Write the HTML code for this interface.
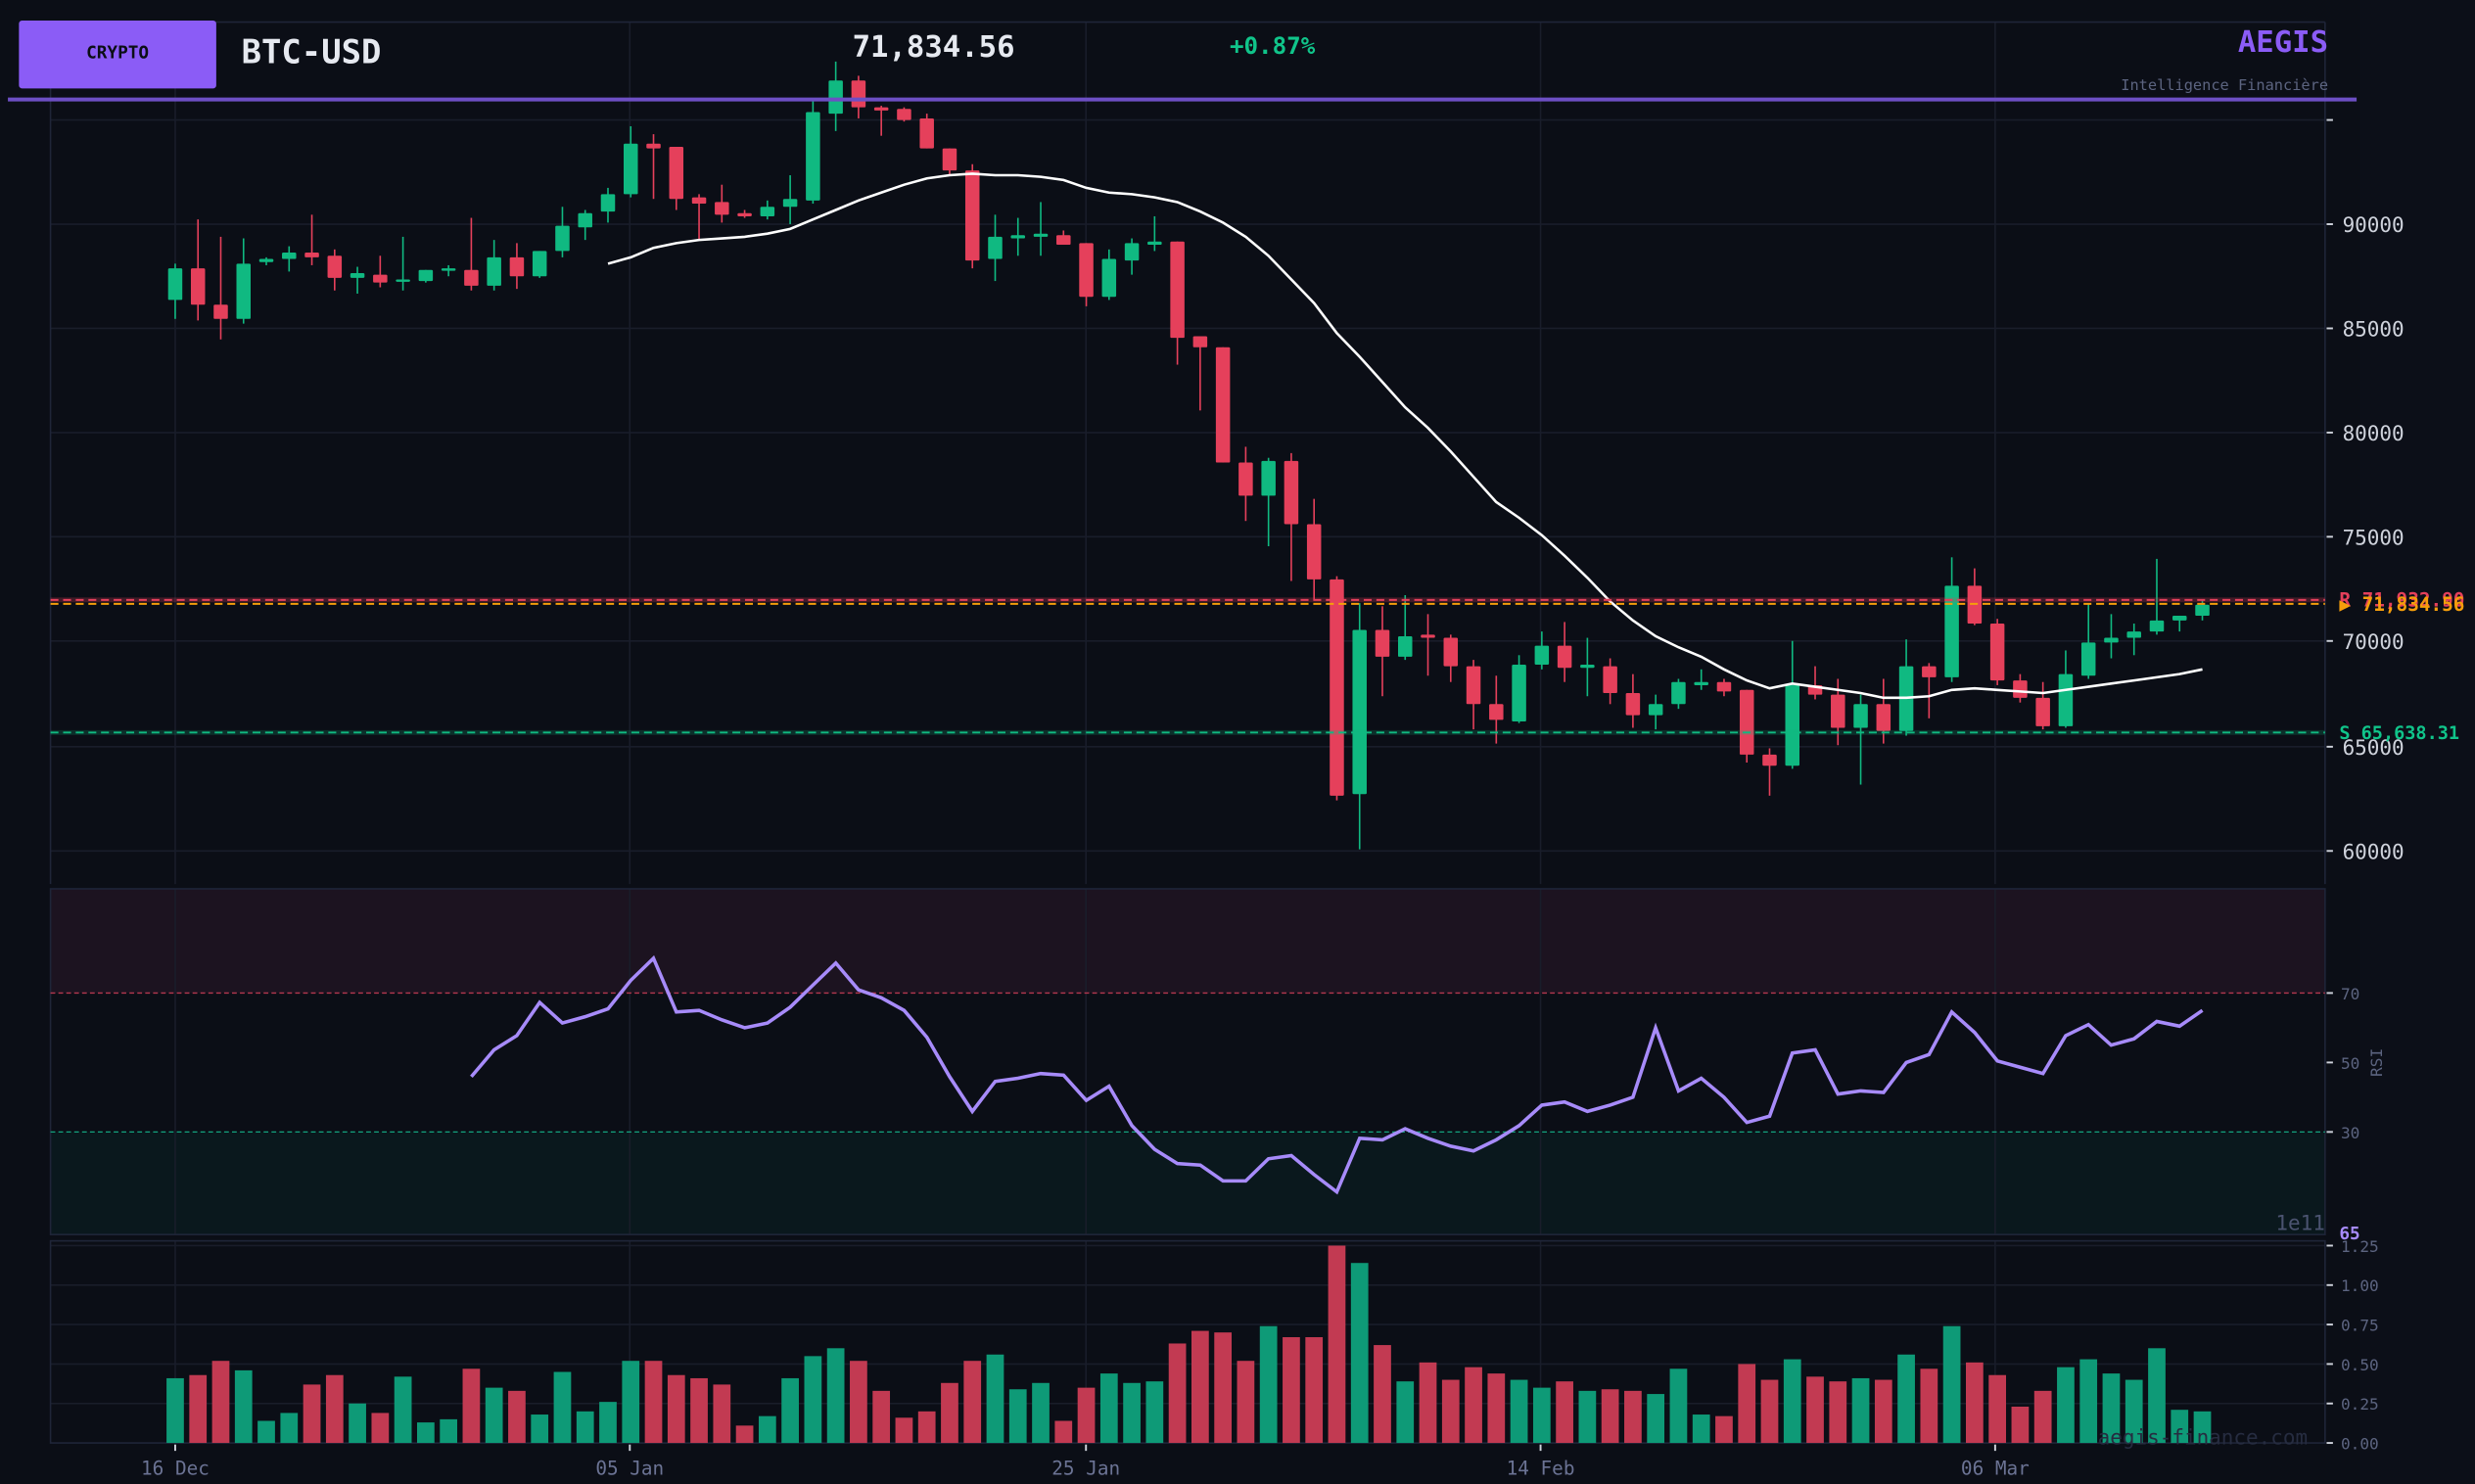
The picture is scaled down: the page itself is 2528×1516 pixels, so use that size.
<!DOCTYPE html>
<html><head><meta charset="utf-8"><style>
html,body{margin:0;padding:0;background:#0b0e16;}
svg{display:block;}
text{font-family:"DejaVu Sans Mono","Liberation Mono",monospace;}
</style></head><body>
<svg id="s" width="2528" height="1516" viewBox="0 0 1568 940" preserveAspectRatio="none" xmlns="http://www.w3.org/2000/svg">
<rect x="0" y="0" width="1568" height="940" fill="#0c0f18"/>
<rect x="0" y="0" width="1495" height="940" fill="#0b0e16"/>
<rect x="32" y="563" width="1441" height="66" fill="#1c1320"/>
<rect x="32" y="717" width="1441" height="65" fill="#0a181d"/>
<g id="grid" stroke="#191d2a" stroke-width="1"></g>
<g fill="none" stroke="#1f2538" stroke-width="1">
<line x1="32" y1="14" x2="1473" y2="14"/>
<line x1="1473" y1="14" x2="1473" y2="560"/>
<line x1="32" y1="14" x2="32" y2="560"/>
<rect x="32" y="563" width="1441" height="219"/>
<rect x="32" y="786" width="1441" height="128"/>
</g>
<line x1="32" y1="629" x2="1473" y2="629" stroke="#b5384f" stroke-width="0.8" stroke-dasharray="3,2"/>
<line x1="32" y1="717" x2="1473" y2="717" stroke="#14a37f" stroke-width="0.8" stroke-dasharray="3,2"/>
<g id="vol"></g>
<g id="candles"></g>
<polyline id="ma" fill="none" stroke="#ffffff" stroke-width="1.6"/>
<polyline id="rsi" fill="none" stroke="#a78bfa" stroke-width="2.2"/>
<line x1="32" y1="380" x2="1473" y2="380" stroke="#e5405b" stroke-width="1.2" stroke-dasharray="5,3"/>
<line x1="32" y1="380" x2="1473" y2="380" stroke="#e5405b" stroke-width="3" opacity="0.25"/>
<line x1="32" y1="382.5" x2="1473" y2="382.5" stroke="#f59e0b" stroke-width="1.2" stroke-dasharray="5,3"/>
<line x1="32" y1="464" x2="1473" y2="464" stroke="#10b981" stroke-width="1.2" stroke-dasharray="5,3"/>
<line x1="32" y1="464" x2="1473" y2="464" stroke="#10b981" stroke-width="3" opacity="0.2"/>
<line x1="5" y1="63" x2="1493" y2="63" stroke="#6d4fc4" stroke-width="2.5"/>
<rect x="12" y="13" width="125" height="43" rx="2" fill="#8b5cf6"/>
<text x="74.5" y="37" font-size="11" font-weight="bold" fill="#0b0e16" text-anchor="middle">CRYPTO</text>
<text x="153" y="40" font-size="21" font-weight="bold" fill="#e6e9f0">BTC-USD</text>
<text x="540" y="36" font-size="19" font-weight="bold" fill="#e6e9f0">71,834.56</text>
<text x="779" y="34" font-size="15" font-weight="bold" fill="#10c48a">+0.87%</text>
<text x="1475" y="33" font-size="19" font-weight="bold" fill="#8b5cf6" text-anchor="end">AEGIS</text>
<text x="1475" y="57" font-size="9.5" fill="#5c6480" text-anchor="end">Intelligence Financière</text>
<g font-size="13" fill="#cfd3dc">
<text x="1484" y="147">90000</text>
<text x="1484" y="213">85000</text>
<text x="1484" y="279">80000</text>
<text x="1484" y="345">75000</text>
<text x="1484" y="411">70000</text>
<text x="1484" y="478">65000</text>
<text x="1484" y="544">60000</text>
</g>
<g stroke="#cfd3dc" stroke-width="1.2">
<line x1="1474" y1="76" x2="1478" y2="76"/><line x1="1474" y1="142" x2="1478" y2="142"/><line x1="1474" y1="208" x2="1478" y2="208"/><line x1="1474" y1="274" x2="1478" y2="274"/><line x1="1474" y1="340" x2="1478" y2="340"/><line x1="1474" y1="406" x2="1478" y2="406"/><line x1="1474" y1="473" x2="1478" y2="473"/><line x1="1474" y1="539" x2="1478" y2="539"/>
<line x1="1474" y1="629" x2="1478" y2="629"/><line x1="1474" y1="673" x2="1478" y2="673"/><line x1="1474" y1="717" x2="1478" y2="717"/>
<line x1="1474" y1="789" x2="1478" y2="789"/><line x1="1474" y1="814" x2="1478" y2="814"/><line x1="1474" y1="839" x2="1478" y2="839"/><line x1="1474" y1="864" x2="1478" y2="864"/><line x1="1474" y1="889" x2="1478" y2="889"/><line x1="1474" y1="914" x2="1478" y2="914"/>
<line x1="111" y1="915" x2="111" y2="919"/><line x1="399" y1="915" x2="399" y2="919"/><line x1="688" y1="915" x2="688" y2="919"/><line x1="976" y1="915" x2="976" y2="919"/><line x1="1264" y1="915" x2="1264" y2="919"/>
</g>
<text x="1482" y="384" font-size="12" font-weight="bold" fill="#e5405b">R  71,932.90</text>
<text x="1482" y="387" font-size="12" font-weight="bold" fill="#f59e0b">▶ 71,834.56</text>
<text x="1482" y="468" font-size="11.5" font-weight="bold" fill="#10c48a">S  65,638.31</text>
<g font-size="10" fill="#5c6480">
<text x="1483" y="633">70</text><text x="1483" y="677">50</text><text x="1483" y="721">30</text>
<text x="1483" y="793">1.25</text><text x="1483" y="818">1.00</text><text x="1483" y="843">0.75</text><text x="1483" y="868">0.50</text><text x="1483" y="893">0.25</text><text x="1483" y="918">0.00</text>
</g>
<text x="1509" y="673" font-size="10" fill="#5c6480" text-anchor="middle" transform="rotate(-90 1509 673)">RSI</text>
<text x="1473" y="779" font-size="13" fill="#4b5370" text-anchor="end">1e11</text>
<text x="1482" y="785" font-size="11" font-weight="bold" fill="#a78bfa">65</text>
<text x="1462" y="915" font-size="13" fill="#262c40" text-anchor="end">aegis-finance.com</text>
<g font-size="12" fill="#6b7394" text-anchor="middle">
<text x="111" y="934">16 Dec</text><text x="399" y="934">05 Jan</text><text x="688" y="934">25 Jan</text><text x="976" y="934">14 Feb</text><text x="1264" y="934">06 Mar</text>
</g>
</svg>
<script>
var NS="http://www.w3.org/2000/svg";
function el(p,t,a){var e=document.createElementNS(NS,t);for(var k in a)e.setAttribute(k,a[k]);p.appendChild(e);return e;}
var grid=document.getElementById('grid');
[76,142,208,274,340,406,473,539].forEach(function(y){el(grid,'line',{x1:32,y1:y,x2:1473,y2:y});});
[814,839,864,889].forEach(function(y){el(grid,'line',{x1:32,y1:y,x2:1473,y2:y});});
el(grid,'line',{x1:32,y1:789,x2:1473,y2:789});
[111,399,688,976,1264].forEach(function(x){el(grid,'line',{x1:x,y1:14,x2:x,y2:560});el(grid,'line',{x1:x,y1:563,x2:x,y2:782});el(grid,'line',{x1:x,y1:786,x2:x,y2:914});});
var C=[
[1,170,190,167,202],[0,170,193,139,203],[0,193,202,150,215],[1,167,202,151,205],[1,164,166,163,168],[1,160,164,156,172],[0,160,163,136,168],[0,162,176,158,184],[1,173,176,169,186],[0,174,179,162,182],
[1,177,178,150,184],[1,171,178,171,179],[1,170,171,168,175],[0,171,181,138,184],[1,163,181,152,184],[0,163,175,154,183],[1,159,175,159,176],[1,143,159,131,163],[1,135,144,133,152],[1,123,134,119,141],
[1,91,123,80,125],[0,91,94,85,126],[0,93,126,93,133],[0,125,129,123,152],[0,128,136,117,141],[0,135,137,133,138],[1,131,137,127,139],[1,126,131,111,142],[1,71,127,62,129],[1,51,72,39,83],
[0,51,68,48,75],[0,68,70,67,86],[0,69,76,68,77],[0,75,94,72,94],[0,94,108,94,111],[0,108,165,104,170],[1,150,164,136,178],[1,149,151,138,162],[1,148,150,128,162],[0,149,155,146,155],
[0,154,188,154,194],[1,164,188,158,190],[1,154,165,151,174],[1,153,155,137,159],[0,153,214,153,231],[0,213,220,213,260],[0,220,293,220,293],[0,293,314,283,330],[1,292,314,290,346],[0,292,332,287,368],
[0,332,367,316,380],[0,367,504,365,507],[1,399,503,382,538],[0,399,416,384,441],[1,403,416,377,418],[0,402,404,389,428],[0,404,422,402,432],[0,422,446,418,462],[0,446,456,428,471],[1,421,457,415,458],
[1,409,421,400,424],[0,409,423,394,432],[1,421,423,404,441],[0,422,439,417,446],[0,439,453,427,461],[1,446,453,440,462],[1,432,446,430,449],[1,432,434,424,437],[0,432,438,430,441],[0,437,478,437,483],
[0,478,485,474,504],[1,434,485,406,487],[0,434,440,422,443],[0,440,461,430,472],[1,446,461,440,497],[0,446,463,430,471],[1,422,463,405,466],[0,422,429,420,455],[1,371,429,353,432],[0,371,395,360,396],
[0,395,431,392,434],[0,431,442,427,445],[0,442,460,432,462],[1,427,460,412,461],[1,407,428,382,430],[1,404,407,389,417],[1,400,404,395,415],[1,393,400,354,402],[1,390,393,390,400],[1,383,390,380,393]];
var V=[873,871,862,868,900,895,877,871,889,895,872,901,899,867,879,881,896,869,894,888,862,862,871,873,877,903,897,873,859,854,862,881,898,894,876,862,858,880,876,900,879,870,876,875,851,843,844,862,840,847,847,789,800,852,875,863,874,866,870,874,879,875,881,880,881,883,867,896,897,864,874,861,872,875,873,874,858,867,840,863,871,891,881,866,861,870,874,854,893,894];
var cg=document.getElementById('candles'),vg=document.getElementById('vol');
function X(i){return 111+14.43*i;}
C.forEach(function(c,i){var x=X(i),col=c[0]?'#10b981':'#e5405b';
el(cg,'line',{x1:x,y1:c[3],x2:x,y2:c[4],stroke:col,'stroke-width':1});
var h=Math.max(c[2]-c[1],1.5);
el(cg,'rect',{x:x-4.5,y:c[1],width:9,height:h,fill:col,rx:0.8});
el(vg,'rect',{x:x-5.5,y:V[i],width:11,height:914-V[i],fill:c[0]?'#0e9a77':'#c23a52'});
});
var MA=[167,163,157,154,152,151,150,148,145,139,133,127,122,117,113,111,110,111,111,112,114,119,122,123,125,128,134,141,150,162,177,192,211,226,242,258,271,286,302,318,328,339,352,366,381,393,403,410,416,424,431,436,433,435,437,439,442,442,441,437,436,437,438,439,437,435,433,431,429,427,424];
var p=[];MA.forEach(function(y,k){p.push(X(k+19).toFixed(1)+','+y);});
document.getElementById('ma').setAttribute('points',p.join(' '));
var R=[682,665,656,635,648,644,639,621,607,641,640,646,651,648,638,624,610,627,632,640,657,682,704,685,683,680,681,697,688,713,728,737,738,748,748,734,732,744,755,721,722,715,721,726,729,722,713,700,698,704,700,695,651,691,683,695,711,707,667,665,693,691,692,673,668,641,654,672,676,680,656,649,662,658,647,650,640];
p=[];R.forEach(function(y,k){p.push(X(k+13).toFixed(1)+','+y);});
document.getElementById('rsi').setAttribute('points',p.join(' '));
</script>
</body></html>
